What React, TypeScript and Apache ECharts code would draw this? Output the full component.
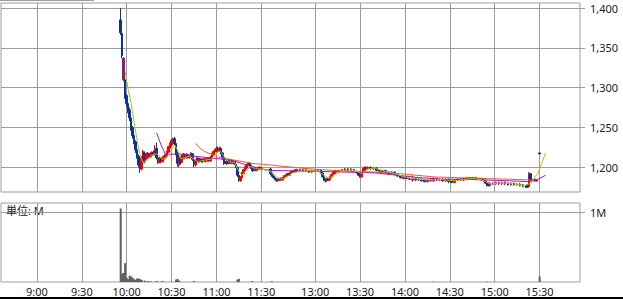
import React, { useEffect, useRef } from 'react';
import * as echarts from 'echarts';

// ---- tick labels ----
const TIME_LABELS = ['9:00', '9:30', '10:00', '10:30', '11:00', '11:30', '13:00', '13:30', '14:00', '14:30', '15:00', '15:30'];
const PRICE_TICKS = [1200, 1250, 1300, 1350, 1400];
const VOLUME_TICKS = [1];
const VOLUME_UNIT = '単位: M';

// ---- candles: [time, open, close, low, high] ----
const CANDLES: [string, number, number, number, number][] = [
  ['9:56', 1385, 1369, 1366, 1400], ['9:57', 1368, 1340, 1337, 1370], ['9:58', 1337, 1310, 1308, 1338],
  ['9:59', 1310, 1290, 1286, 1311], ['10:00', 1290, 1280, 1276, 1292], ['10:01', 1280, 1272, 1268, 1283],
  ['10:02', 1272, 1262, 1258, 1275], ['10:03', 1262, 1250, 1246, 1264], ['10:04', 1250, 1240, 1236, 1252],
  ['10:05', 1240, 1232, 1229, 1243], ['10:06', 1232, 1222, 1218, 1234], ['10:07', 1222, 1214, 1211, 1225],
  ['10:08', 1214, 1203, 1200, 1216], ['10:09', 1203, 1198, 1193, 1208], ['10:10', 1198, 1212, 1196, 1214],
  ['10:11', 1206, 1220, 1204, 1222], ['10:12', 1218, 1208, 1205, 1220], ['10:13', 1209, 1216, 1207, 1218],
  ['10:14', 1212, 1218, 1210, 1219], ['10:15', 1217, 1213, 1211, 1218], ['10:16', 1213, 1217, 1212, 1219],
  ['10:17', 1215, 1219, 1214, 1220], ['10:18', 1219, 1216, 1215, 1221], ['10:19', 1216, 1222, 1215, 1228],
  ['10:20', 1224, 1212, 1210, 1231], ['10:21', 1212, 1206, 1204, 1214], ['10:22', 1206, 1211, 1205, 1213],
  ['10:23', 1211, 1207, 1205, 1212], ['10:24', 1207, 1212, 1206, 1214], ['10:25', 1210, 1214, 1209, 1215],
  ['10:26', 1212, 1216, 1211, 1217], ['10:27', 1214, 1220, 1213, 1221], ['10:28', 1219, 1226, 1218, 1227],
  ['10:29', 1224, 1230, 1222, 1231], ['10:30', 1228, 1234, 1226, 1235], ['10:31', 1230, 1236, 1229, 1237],
  ['10:32', 1236, 1230, 1228, 1238], ['10:33', 1230, 1218, 1215, 1232], ['10:34', 1218, 1205, 1201, 1220],
  ['10:35', 1203, 1212, 1200, 1214], ['10:36', 1212, 1206, 1203, 1214], ['10:37', 1206, 1215, 1205, 1216],
  ['10:38', 1211, 1217, 1210, 1218], ['10:39', 1216, 1212, 1210, 1217], ['10:40', 1212, 1216, 1211, 1218],
  ['10:41', 1216, 1212, 1211, 1217], ['10:42', 1212, 1215, 1211, 1216], ['10:43', 1214, 1218, 1213, 1219],
  ['10:44', 1217, 1210, 1208, 1218], ['10:45', 1210, 1203, 1200, 1211], ['10:46', 1203, 1209, 1201, 1210],
  ['10:47', 1207, 1212, 1206, 1213], ['10:48', 1211, 1207, 1206, 1212], ['10:49', 1207, 1211, 1206, 1212],
  ['10:50', 1210, 1207, 1206, 1211], ['10:51', 1207, 1210, 1206, 1211], ['10:52', 1208, 1211, 1207, 1212],
  ['10:53', 1210, 1208, 1206, 1211], ['10:54', 1208, 1211, 1207, 1212], ['10:55', 1211, 1208, 1207, 1212],
  ['10:56', 1208, 1213, 1207, 1214], ['10:57', 1212, 1217, 1211, 1218], ['10:58', 1216, 1220, 1215, 1221],
  ['10:59', 1219, 1222, 1218, 1223], ['11:00', 1220, 1224, 1219, 1226], ['11:01', 1224, 1221, 1220, 1226],
  ['11:02', 1220, 1224, 1219, 1226], ['11:03', 1224, 1218, 1216, 1225], ['11:04', 1218, 1212, 1210, 1219],
  ['11:05', 1212, 1205, 1203, 1213], ['11:06', 1206, 1205, 1204, 1208], ['11:07', 1204, 1208, 1203, 1209],
  ['11:08', 1208, 1205, 1204, 1209], ['11:09', 1205, 1208, 1204, 1209], ['11:10', 1208, 1205, 1204, 1209],
  ['11:11', 1205, 1207, 1204, 1208], ['11:12', 1207, 1204, 1203, 1208], ['11:13', 1204, 1200, 1199, 1205],
  ['11:14', 1200, 1190, 1188, 1201], ['11:15', 1190, 1184, 1182, 1191], ['11:16', 1183, 1188, 1182, 1189],
  ['11:17', 1187, 1193, 1186, 1194], ['11:18', 1192, 1197, 1191, 1198], ['11:19', 1196, 1200, 1195, 1201],
  ['11:20', 1199, 1203, 1198, 1204], ['11:21', 1202, 1205, 1201, 1206], ['11:22', 1205, 1202, 1201, 1206],
  ['11:23', 1203, 1199, 1198, 1204], ['11:24', 1200, 1196, 1194, 1201], ['11:25', 1196, 1199, 1195, 1200],
  ['11:26', 1199, 1196, 1195, 1200], ['11:27', 1196, 1199, 1195, 1200], ['11:28', 1198, 1200, 1197, 1201],
  ['11:29', 1200, 1198, 1197, 1201], ['11:30', 1198, 1199, 1197, 1200],
  ['12:30', 1198, 1192, 1190, 1199], ['12:31', 1192, 1189, 1188, 1193], ['12:32', 1189, 1187, 1186, 1190],
  ['12:33', 1187, 1185, 1184, 1188], ['12:34', 1185, 1183, 1182, 1186], ['12:35', 1183, 1185, 1182, 1186],
  ['12:36', 1184, 1186, 1183, 1187], ['12:37', 1186, 1184, 1183, 1187], ['12:38', 1184, 1187, 1183, 1188],
  ['12:39', 1186, 1189, 1185, 1190], ['12:40', 1188, 1190, 1187, 1191], ['12:41', 1190, 1192, 1189, 1193],
  ['12:42', 1192, 1190, 1189, 1193], ['12:43', 1190, 1193, 1189, 1194], ['12:44', 1193, 1195, 1192, 1196],
  ['12:45', 1195, 1194, 1193, 1196], ['12:46', 1194, 1196, 1193, 1197], ['12:47', 1195, 1197, 1194, 1198],
  ['12:48', 1197, 1195, 1194, 1198], ['12:50', 1195, 1197, 1194, 1198], ['12:52', 1197, 1195, 1194, 1198],
  ['12:54', 1195, 1197, 1194, 1198], ['12:56', 1196, 1194, 1193, 1197], ['12:58', 1194, 1196, 1193, 1197],
  ['13:00', 1196, 1195, 1194, 1197], ['13:02', 1195, 1196, 1194, 1197], ['13:04', 1196, 1193, 1192, 1197],
  ['13:05', 1193, 1188, 1187, 1194], ['13:06', 1188, 1184, 1183, 1189], ['13:07', 1185, 1183, 1181, 1186],
  ['13:08', 1183, 1186, 1182, 1187], ['13:09', 1186, 1184, 1183, 1187], ['13:10', 1184, 1188, 1183, 1189],
  ['13:11', 1188, 1191, 1187, 1192], ['13:12', 1190, 1193, 1189, 1194], ['13:13', 1192, 1195, 1191, 1196],
  ['13:14', 1194, 1196, 1193, 1197], ['13:16', 1196, 1195, 1194, 1197], ['13:18', 1195, 1197, 1194, 1198],
  ['13:20', 1196, 1198, 1195, 1199], ['13:22', 1198, 1196, 1195, 1199], ['13:24', 1196, 1198, 1195, 1199],
  ['13:26', 1197, 1195, 1194, 1198], ['13:28', 1195, 1193, 1192, 1196], ['13:29', 1193, 1190, 1189, 1194],
  ['13:30', 1190, 1188, 1187, 1191], ['13:31', 1188, 1193, 1187, 1194], ['13:32', 1193, 1198, 1192, 1199],
  ['13:33', 1196, 1200, 1195, 1201], ['13:34', 1200, 1198, 1197, 1201], ['13:35', 1198, 1200, 1197, 1201],
  ['13:37', 1200, 1198, 1197, 1201], ['13:39', 1198, 1199, 1197, 1200], ['13:41', 1199, 1196, 1195, 1200],
  ['13:43', 1196, 1195, 1194, 1197], ['13:45', 1194, 1196, 1193, 1197], ['13:47', 1196, 1193, 1192, 1197],
  ['13:49', 1194, 1192, 1191, 1195], ['13:51', 1192, 1194, 1191, 1195], ['13:53', 1194, 1191, 1190, 1195],
  ['13:55', 1191, 1189, 1188, 1192], ['13:57', 1189, 1187, 1186, 1190], ['13:59', 1186, 1188, 1185, 1189],
  ['14:01', 1188, 1186, 1185, 1189], ['14:03', 1186, 1185, 1184, 1187], ['14:05', 1184, 1186, 1182, 1190],
  ['14:07', 1186, 1184, 1183, 1187], ['14:09', 1184, 1185, 1183, 1186], ['14:11', 1185, 1183, 1182, 1186],
  ['14:13', 1184, 1182, 1181, 1185], ['14:15', 1182, 1184, 1181, 1185], ['14:17', 1184, 1183, 1182, 1185],
  ['14:19', 1183, 1186, 1182, 1188], ['14:21', 1186, 1184, 1183, 1187], ['14:23', 1184, 1185, 1183, 1186],
  ['14:25', 1185, 1183, 1182, 1186], ['14:27', 1183, 1185, 1182, 1186], ['14:29', 1185, 1182, 1180, 1186],
  ['14:31', 1183, 1181, 1180, 1184], ['14:33', 1181, 1184, 1180, 1185], ['14:35', 1184, 1185, 1183, 1186],
  ['14:37', 1185, 1184, 1183, 1186], ['14:39', 1184, 1186, 1183, 1187], ['14:41', 1185, 1187, 1184, 1188],
  ['14:43', 1187, 1185, 1184, 1188], ['14:45', 1185, 1187, 1184, 1188], ['14:47', 1187, 1185, 1184, 1188],
  ['14:49', 1185, 1186, 1184, 1187], ['14:51', 1186, 1184, 1183, 1187], ['14:53', 1184, 1183, 1182, 1185],
  ['14:54', 1183, 1180, 1179, 1184], ['14:55', 1181, 1177, 1176, 1182], ['14:56', 1180, 1177, 1176, 1181],
  ['14:57', 1177, 1180, 1176, 1181], ['14:59', 1180, 1179, 1178, 1181], ['15:01', 1179, 1181, 1178, 1182],
  ['15:03', 1181, 1179, 1178, 1182], ['15:05', 1179, 1181, 1178, 1182], ['15:07', 1181, 1179, 1178, 1182],
  ['15:09', 1180, 1178, 1177, 1181], ['15:11', 1178, 1180, 1177, 1181], ['15:13', 1180, 1178, 1177, 1181],
  ['15:15', 1178, 1179, 1177, 1180], ['15:17', 1179, 1177, 1176, 1180], ['15:19', 1178, 1176, 1175, 1179],
  ['15:21', 1177, 1175, 1174, 1178], ['15:22', 1178, 1175, 1174, 1179], ['15:23', 1176, 1192, 1175, 1194],
  ['15:24', 1192, 1184, 1183, 1193], ['15:25', 1183, 1185, 1182, 1186], ['15:27', 1185, 1183, 1182, 1186],
  ['15:28', 1183, 1184, 1182, 1185], ['15:30', 1217, 1218, 1217, 1218],
];
const PURPLE_CANDLES = ['9:58'];
const CLOSING_PRINT = ['15:30'];

// ---- volume (millions): [time, value] ----
const VOLUME: [string, number][] = [
  ['9:56', 1.05], ['9:57', 0.12], ['9:58', 0.13], ['9:59', 0.27], ['10:00', 0.06], ['10:01', 0.04],
  ['10:02', 0.09], ['10:03', 0.08], ['10:04', 0.06], ['10:05', 0.04], ['10:06', 0.03], ['10:07', 0.05],
  ['10:08', 0.05], ['10:09', 0.04], ['10:10', 0.03], ['10:12', 0.02], ['10:14', 0.015], ['10:16', 0.01],
  ['10:20', 0.015], ['10:24', 0.015], ['10:33', 0.035], ['10:34', 0.045], ['10:35', 0.02], ['10:45', 0.012],
  ['11:14', 0.035], ['11:15', 0.045], ['11:24', 0.012], ['12:31', 0.012], ['14:19', 0.006], ['14:55', 0.006],
  ['15:30', 0.08],
];

// ---- moving-average lines: [time, value] ----
const MA_SHORT: [string, number][] = [
  ['9:59', 1320], ['10:01', 1298], ['10:03', 1280], ['10:05', 1256], ['10:07', 1234], ['10:09', 1214],
  ['10:11', 1206], ['10:13', 1209], ['10:16', 1214], ['10:19', 1217], ['10:21', 1216], ['10:24', 1210],
  ['10:27', 1213], ['10:30', 1222], ['10:32', 1228], ['10:34', 1222], ['10:36', 1211], ['10:39', 1212],
  ['10:42', 1214], ['10:45', 1210], ['10:48', 1207], ['10:52', 1209], ['10:56', 1210], ['10:59', 1215],
  ['11:02', 1221], ['11:05', 1214], ['11:08', 1207], ['11:12', 1206], ['11:15', 1195], ['11:17', 1190],
  ['11:20', 1196], ['11:23', 1201], ['11:26', 1198], ['11:30', 1198], ['12:31', 1194], ['12:34', 1188],
  ['12:37', 1185], ['12:41', 1188], ['12:45', 1193], ['12:50', 1195], ['12:56', 1196], ['13:02', 1195],
  ['13:06', 1190], ['13:09', 1186], ['13:13', 1191], ['13:18', 1195], ['13:24', 1197], ['13:29', 1194],
  ['13:32', 1192], ['13:35', 1198], ['13:40', 1199], ['13:46', 1195], ['13:52', 1193], ['13:58', 1189],
  ['14:04', 1186], ['14:10', 1185], ['14:16', 1184], ['14:22', 1185], ['14:28', 1184], ['14:34', 1183],
  ['14:40', 1185], ['14:46', 1186], ['14:52', 1184], ['14:57', 1179], ['15:02', 1180], ['15:08', 1180],
  ['15:14', 1179], ['15:20', 1177], ['15:24', 1180], ['15:27', 1188], ['15:29', 1193], ['15:34', 1218],
];
const MA_MID: [string, number][] = [
  ['10:20', 1243], ['10:23', 1228], ['10:26', 1216], ['10:35', 1217], ['10:45', 1214], ['10:55', 1212],
  ['11:05', 1210], ['11:10', 1209], ['11:20', 1203], ['11:30', 1198], ['12:30', 1196], ['13:00', 1195],
  ['13:20', 1194], ['13:40', 1193], ['13:55', 1190], ['14:10', 1187], ['14:25', 1185], ['14:40', 1185],
  ['14:55', 1184], ['15:10', 1183], ['15:22', 1182], ['15:28', 1184], ['15:34', 1190],
];
const MA_LONG: [string, number][] = [
  ['10:46', 1230], ['10:49', 1224], ['10:52', 1220], ['11:01', 1213], ['11:12', 1209], ['11:24', 1205],
  ['12:35', 1202], ['12:50', 1199], ['13:05', 1197], ['13:23', 1195], ['13:40', 1194], ['13:57', 1192],
  ['14:19', 1188], ['14:35', 1187], ['14:52', 1186], ['15:10', 1185], ['15:25', 1184],
];

// ---- time slots of the category axis (1 per minute, lunch compressed) ----
const MORNING_START = 8 * 60 + 36;
const MORNING_END = 11 * 60 + 30;
const AFTERNOON_START = 12 * 60 + 30;
const AFTERNOON_SLOT = 180;
const SLOT_COUNT = 388;

function fmt(m: number) {
  return `${Math.floor(m / 60)}:${String(m % 60).padStart(2, '0')}`;
}
function slotLabel(i: number) {
  if (i <= MORNING_END - MORNING_START) return fmt(MORNING_START + i);
  if (i < AFTERNOON_SLOT) return `gap${i}`;
  return fmt(AFTERNOON_START + i - AFTERNOON_SLOT);
}
function slotIndex(t: string) {
  const [h, m] = t.split(':').map(Number);
  const mins = h * 60 + m;
  if (mins <= MORNING_END) return mins - MORNING_START;
  return AFTERNOON_SLOT + mins - AFTERNOON_START;
}
const SLOTS = Array.from({ length: SLOT_COUNT }, (_, i) => slotLabel(i));

const UP = '#f00000';
const DOWN = '#0d3494';
const PURPLE_C = '#8a1f70';
const DARK_C = '#222222';
const GRID = '#9c9c9c';
const FONT = "'Noto Sans', 'Noto Sans CJK JP', sans-serif";

export default function App() {
  const ref = useRef<HTMLDivElement>(null);
  useEffect(() => {
    document.body.style.margin = '0';
    const chart = echarts.init(ref.current!, null, { renderer: 'svg' });
    const isTick = (_i: number, v: string) => TIME_LABELS.includes(v);
    const solid = (c: string) => ({ color: c, color0: c, borderColor: c, borderColor0: c });
    const candleData = CANDLES.map(([t, o, c, l, h]) => {
      const value = [slotIndex(t), o, c, l, h];
      if (PURPLE_CANDLES.includes(t)) return { value, itemStyle: solid(PURPLE_C) };
      if (CLOSING_PRINT.includes(t)) return { value, itemStyle: solid(DARK_C) };
      return { value };
    });
    const toLine = (arr: [string, number][]) => arr.map(([t, v]) => [slotIndex(t), v]);
    const lineSeries = (data: [string, number][], color: string) => ({
      type: 'line', xAxisIndex: 0, yAxisIndex: 0, data: toLine(data), showSymbol: false, symbol: 'none',
      lineStyle: { color, width: 1 }, silent: true, z: 3,
    });
    const xAxisBase = {
      type: 'category', data: SLOTS, boundaryGap: false,
      axisLine: { show: false }, axisTick: { show: false },
      splitLine: { show: true, interval: isTick, lineStyle: { color: GRID, width: 1 } },
    };
    const yLabel = { fontSize: 11, color: '#222', fontFamily: FONT, margin: 10 };
    chart.setOption({
      animation: false,
      textStyle: { fontFamily: FONT },
      grid: [
        { left: 1, top: 3, width: 579, height: 189, show: true, borderColor: GRID, borderWidth: 1, containLabel: false, outerBoundsMode: 'none' },
        { left: 1, top: 203, width: 579, height: 79, show: true, borderColor: GRID, borderWidth: 1, containLabel: false, outerBoundsMode: 'none' },
      ],
      xAxis: [
        { ...xAxisBase, gridIndex: 0, axisLabel: { show: false } },
        { ...xAxisBase, gridIndex: 1, axisLabel: { show: true, interval: isTick, fontSize: 11, color: '#222', fontFamily: FONT, margin: 4 } },
      ],
      yAxis: [
        {
          type: 'value', gridIndex: 0, position: 'right', min: 1169, max: 1406.3, splitNumber: 5,
          axisLine: { show: false },
          axisTick: { show: true, length: 5, inside: false, customValues: PRICE_TICKS, lineStyle: { color: GRID } },
          axisLabel: { ...yLabel, customValues: PRICE_TICKS, formatter: (v: number) => v.toLocaleString('en-US') },
          splitLine: { show: true, lineStyle: { color: GRID } },
        },
        {
          type: 'value', gridIndex: 1, position: 'right', min: 0, max: 1.1286, interval: 1,
          axisLine: { show: false },
          axisTick: { show: true, length: 5, inside: false, customValues: VOLUME_TICKS, lineStyle: { color: GRID } },
          axisLabel: { ...yLabel, customValues: VOLUME_TICKS, formatter: (v: number) => (v === 1 ? '1M' : '') },
          splitLine: { show: true, lineStyle: { color: GRID } },
        },
      ],
      series: [
        {
          type: 'candlestick', xAxisIndex: 0, yAxisIndex: 0, data: candleData, encode: { x: 0, y: [1, 2, 3, 4] },
          barWidth: 2, itemStyle: { color: UP, color0: DOWN, borderColor: UP, borderColor0: DOWN, borderWidth: 1 },
          silent: true, z: 2,
        },
        lineSeries(MA_LONG, '#e8602a'),
        lineSeries(MA_MID, '#9b19c2'),
        lineSeries(MA_SHORT, '#a5c80f'),
        {
          type: 'bar', xAxisIndex: 1, yAxisIndex: 1, data: VOLUME.map(([t, v]) => [slotIndex(t), v]),
          barWidth: 2, itemStyle: { color: '#5f5f5f' }, silent: true,
        },
      ],
      graphic: [
        { type: 'text', left: 6, top: 205, style: { text: VOLUME_UNIT, fontSize: 11, fill: '#222', fontFamily: FONT } },
        { type: 'rect', shape: { x: 0, y: 297, width: 623, height: 2 }, style: { fill: '#000' } },
        { type: 'line', shape: { x1: 0, y1: 0.5, x2: 94, y2: 0.5 }, style: { stroke: GRID, lineWidth: 1 } },
      ],
    });
    return () => chart.dispose();
  }, []);
  return <div ref={ref} style={{ position: 'absolute', left: 0, top: 0, width: 623, height: 299 }} />;
}
